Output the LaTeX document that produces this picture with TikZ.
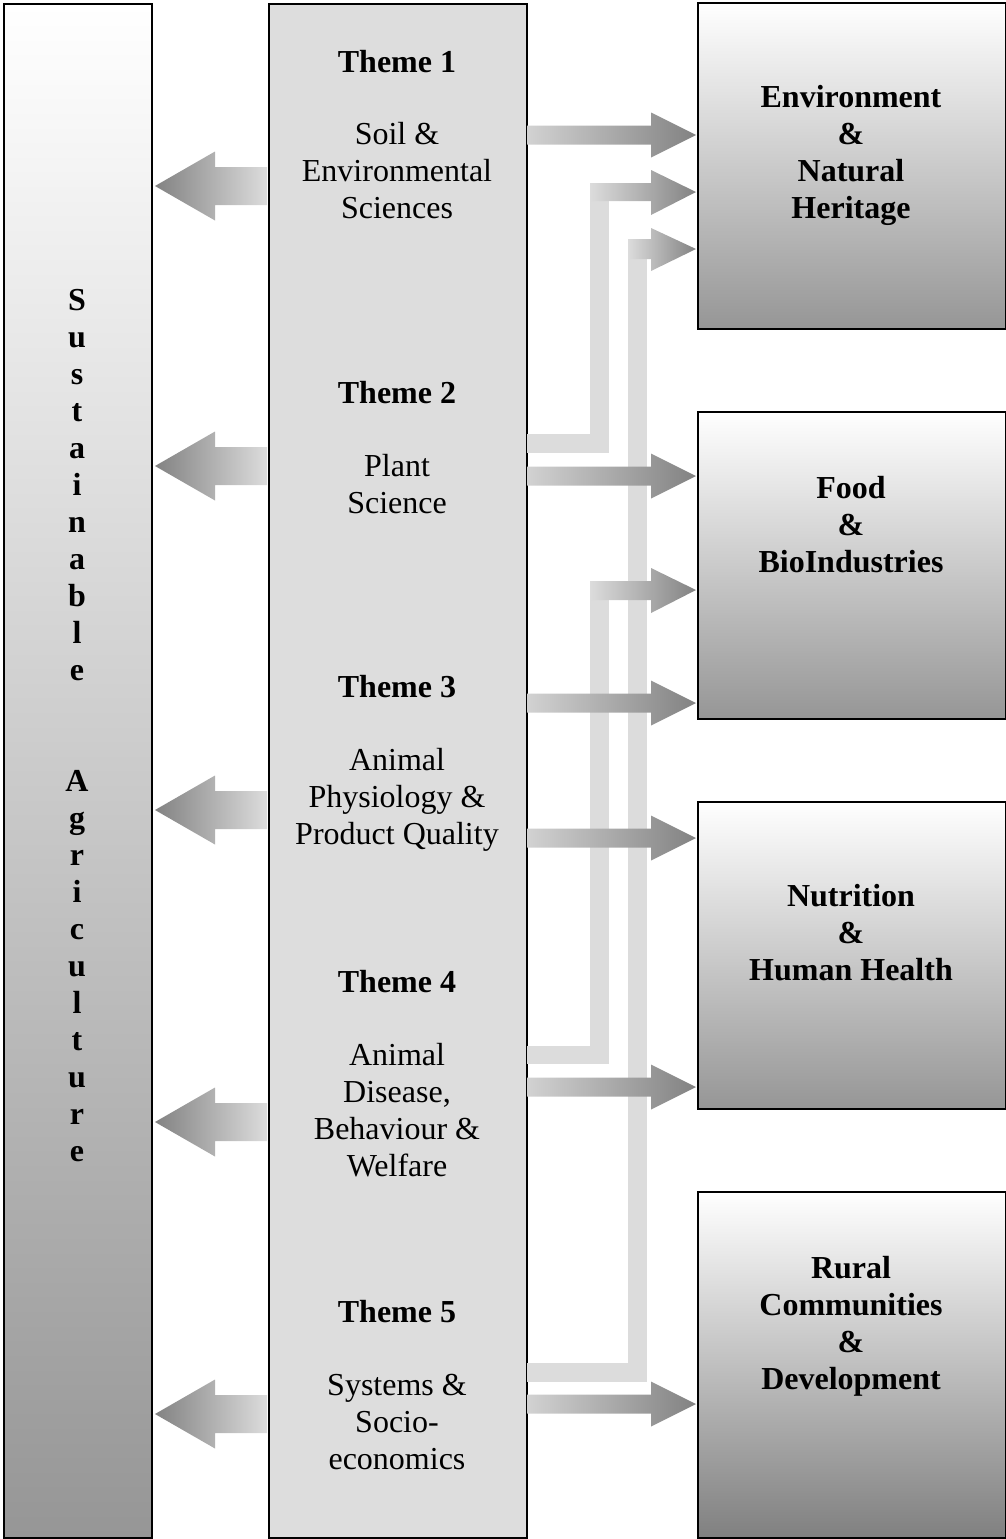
\documentclass[tikz,border=0pt]{standalone}
\usepackage{fontspec}
\setmainfont{Liberation Serif}
\definecolor{barc}{HTML}{DCDCDC}
\definecolor{arrd}{HTML}{828282}
\definecolor{arrl}{HTML}{D2D2D2}
\definecolor{midc}{HTML}{DDDDDD}
\definecolor{boxb}{HTML}{969696}
\definecolor{boxbb}{HTML}{808080}
\newcommand\RArr[1]{\shade[left color=arrl, right color=arrd] (527,#1-9.5) -- (651,#1-9.5) -- (651,#1-22.5) -- (696,#1) -- (651,#1+22.5) -- (651,#1+9.5) -- (527,#1+9.5) -- cycle;}
\newcommand\LArr[1]{\shade[left color=arrd, right color=barc] (155,#1) -- (215,#1-34.5) -- (215,#1-19) -- (267,#1-19) -- (267,#1+19) -- (215,#1+19) -- (215,#1+34.5) -- cycle;}
\begin{document}
\begin{tikzpicture}[x=1pt,y=-1pt,
  txt/.style={font=\fontsize{32}{37}\selectfont, align=center, anchor=north, inner sep=0pt},
  btxt/.style={font=\fontsize{32}{37}\selectfont\bfseries, align=center, anchor=north, inner sep=0pt},
  box/.style={draw=black, line width=1.5pt, inner sep=0pt, anchor=north west},
  rbox/.style={box, minimum width=308pt, top color=white, bottom color=boxb}
]
\useasboundingbox (0,0) rectangle (1006,1539);
% boxes
\node[box, line width=2pt, minimum width=148pt, minimum height=1534pt, top color=white, bottom color=boxb] (sa) at (3,3) {};
\node[box, minimum width=258pt, minimum height=1534pt, fill=midc] (mid) at (268,3) {};
\node[rbox, minimum height=326pt] (env) at (697,2) {};
\node[rbox, minimum height=307pt] (food) at (697,411) {};
\node[rbox, minimum height=307pt] (nutr) at (697,801) {};
\node[rbox, minimum height=346pt, bottom color=boxbb] (rural) at (697,1191) {};
% elbow connectors (light bars)
\fill[barc] (527,434) rectangle (609,453);
\fill[barc] (590,183) rectangle (609,453);
\shade[left color=barc, right color=arrd] (590,183) -- (651,183) -- (651,170) -- (696,192) -- (651,215) -- (651,201) -- (590,201) -- cycle;
\fill[barc] (527,1363) rectangle (647,1382);
\fill[barc] (628,239) rectangle (647,1382);
\shade[left color=barc, right color=arrd] (628,239) -- (651,239) -- (651,228) -- (696,249) -- (651,271) -- (651,259) -- (628,259) -- cycle;
\fill[barc] (527,1046) rectangle (609,1064);
\fill[barc] (590,581) rectangle (609,1064);
\shade[left color=barc, right color=arrd] (590,581) -- (651,581) -- (651,568) -- (696,590) -- (651,613) -- (651,600) -- (590,600) -- cycle;
% straight arrows
\RArr{135}
\RArr{476}
\RArr{703}
\RArr{838}
\RArr{1087}
\RArr{1404}
\LArr{186}
\LArr{466}
\LArr{810}
\LArr{1122}
\LArr{1414}
% texts
\node[btxt] (sat) at (77,289) {S\\u\\s\\t\\a\\i\\n\\a\\b\\l\\e\\~\\~\\A\\g\\r\\i\\c\\u\\l\\t\\u\\r\\e};
\node[btxt] (t1) at (397,50) {Theme 1};
\node[txt] (t1b) at (397,122) {Soil \&\\Environmental\\Sciences};
\node[btxt] (t2) at (397,381) {Theme 2};
\node[txt] (t2b) at (397,454) {Plant\\Science};
\node[btxt] (t3) at (397,675) {Theme 3};
\node[txt] (t3b) at (397,748) {Animal\\Physiology \&\\Product Quality};
\node[btxt] (t4) at (397,970) {Theme 4};
\node[txt] (t4b) at (397,1043) {Animal\\Disease,\\Behaviour \&\\Welfare};
\node[btxt] (t5) at (397,1300) {Theme 5};
\node[txt] (t5b) at (397,1374) {Systems \&\\Socio-\\economics};
\node[btxt] (envt) at (851,85) {Environment\\\&\\Natural\\Heritage};
\node[btxt] (foodt) at (851,476) {Food\\\&\\BioIndustries};
\node[btxt] (nutrt) at (851,884) {Nutrition\\\&\\Human Health};
\node[btxt] (ruralt) at (851,1256) {Rural\\Communities\\\&\\Development};
\end{tikzpicture}
\end{document}
